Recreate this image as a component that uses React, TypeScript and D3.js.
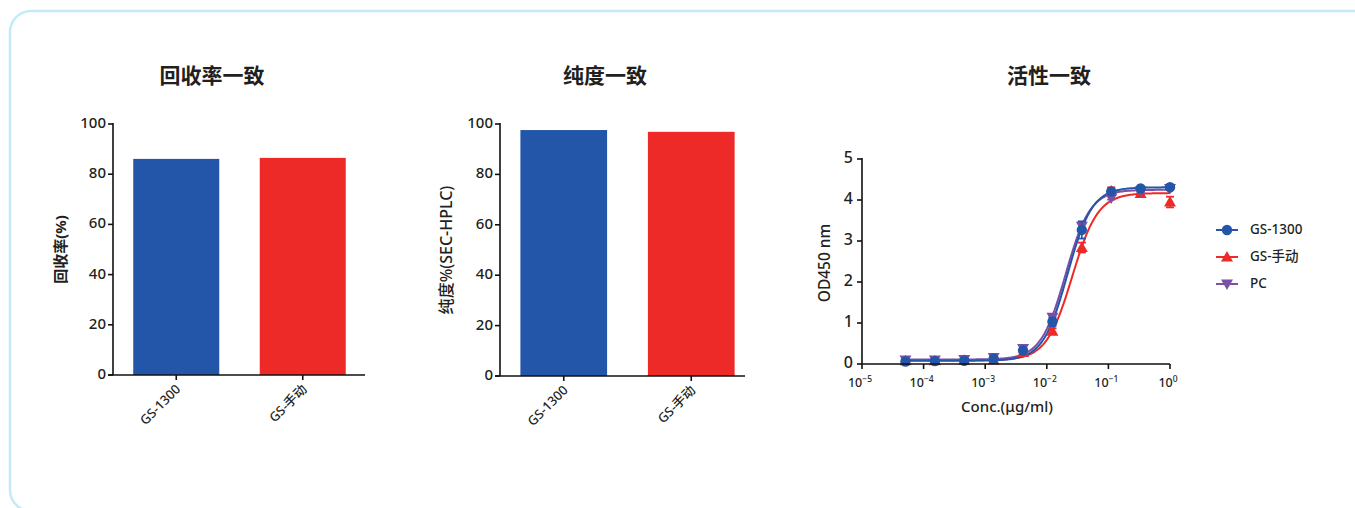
import React from 'react';
import * as d3 from 'd3';

// ---------- data ----------
const barCategories = ['GS-1300', 'GS-手动'];
const recoveryValues = [86.1, 86.5];
const purityValues = [97.6, 96.9];
const barColors = ['#2356a8', '#ee2a29'];
const barTicks = [0, 20, 40, 60, 80, 100];

const concentrations = [5.08e-5, 1.524e-4, 4.57e-4, 1.372e-3, 4.115e-3, 1.235e-2, 3.704e-2, 0.1111, 0.3333, 1];
const gs1300Values = [0.06, 0.07, 0.08, 0.13, 0.33, 1.03, 3.27, 4.21, 4.28, 4.31];
const gs1300Errors = [0.01, 0.01, 0.01, 0.02, 0.03, 0.1, 0.21, 0.04, 0.03, 0.02];
const gsManualValues = [0.08, 0.08, 0.09, 0.1, 0.28, 0.8, 2.84, 4.22, 4.16, 3.95];
const gsManualErrors = [0.01, 0.01, 0.01, 0.02, 0.03, 0.07, 0.12, 0.09, 0.05, 0.13];
const pcValues = [0.1, 0.1, 0.11, 0.16, 0.38, 1.14, 3.36, 4.05, 4.22, 4.28];
const pcErrors = [0.01, 0.01, 0.01, 0.02, 0.03, 0.06, 0.1, 0.04, 0.03, 0.02];
// 4PL fit parameters: [bottom, top, log10 EC50, hill]
const gs1300Fit = [0.08, 4.31, -1.663, 2.18];
const gsManualFit = [0.09, 4.17, -1.588, 2.08];
const pcFit = [0.11, 4.25, -1.696, 2.17];
const odTicks = [0, 1, 2, 3, 4, 5];
const concTickExps = [-5, -4, -3, -2, -1, 0];

const FONT = "'Noto Sans', 'Noto Sans CJK SC', sans-serif";
const CJK = "'Noto Sans CJK SC', sans-serif";
const TXT = '#231f20';

function BarChart({ values, title, ylabel, ylabelSize, left, right, bandLeft, bandRight, y0, y100, titleX, ylabelX, ylabelBold }) {
  const x = d3.scaleBand().domain(barCategories).range([bandLeft, bandRight]).paddingInner(0.32).paddingOuter(0.16);
  const y = d3.scaleLinear().domain([0, 100]).range([y0, y100]);
  return (
    <g>
      <text x={titleX} y={83} textAnchor="middle" fontSize={21} fontWeight={700} fill={TXT} fontFamily={CJK}>{title}</text>
      <text transform={`translate(${ylabelX},${(y0 + y100) / 2}) rotate(-90)`} textAnchor="middle"
        fontSize={ylabelSize} fontWeight={ylabelBold ? 700 : 500} fill={TXT} dominantBaseline="middle">{ylabel}</text>
      {values.map((v, i) => (
        <rect key={i} x={x(barCategories[i])} y={y(v)} width={x.bandwidth()} height={y(0) - y(v)} fill={barColors[i]} />
      ))}
      <line x1={left} x2={left} y1={y(100) - 1} y2={y(0)} stroke="#111" strokeWidth={1.6} />
      <line x1={left - 5} x2={right} y1={y(0)} y2={y(0)} stroke="#111" strokeWidth={1.6} />
      {barTicks.map((t) => (
        <g key={t}>
          <line x1={left - 5} x2={left} y1={y(t)} y2={y(t)} stroke="#111" strokeWidth={1.6} />
          <text x={left - 7} y={y(t)} textAnchor="end" dominantBaseline="middle" fontSize={15} fontWeight={500} fill={TXT}>{t}</text>
        </g>
      ))}
      {barCategories.map((c) => {
        const cx = x(c) + x.bandwidth() / 2;
        return (
          <g key={c}>
            <line x1={cx} x2={cx} y1={y(0)} y2={y(0) + 5} stroke="#111" strokeWidth={1.6} />
            <text transform={`translate(${cx + 5},${y(0) + 15}) rotate(-45)`} textAnchor="end" fontSize={13} fontWeight={500} fill={TXT}>{c}</text>
          </g>
        );
      })}
    </g>
  );
}

function Marker({ type, cx, cy, color }) {
  if (type === 'circle') return <circle cx={cx} cy={cy} r={5.2} fill={color} />;
  const s = 6;
  if (type === 'up') return <path d={`M${cx},${cy - s}L${cx + s},${cy + s * 0.75}L${cx - s},${cy + s * 0.75}Z`} fill={color} />;
  return <path d={`M${cx},${cy + s}L${cx + s},${cy - s * 0.75}L${cx - s},${cy - s * 0.75}Z`} fill={color} />;
}

function CurveChart() {
  const x = d3.scaleLog().domain([1e-5, 1]).range([862, 1170]);
  const y = d3.scaleLinear().domain([0, 5]).range([364, 159]);
  const series = [
    { name: 'GS-手动', values: gsManualValues, errors: gsManualErrors, fit: gsManualFit, color: '#ee2a29', marker: 'up' },
    { name: 'PC', values: pcValues, errors: pcErrors, fit: pcFit, color: '#7b4fa6', marker: 'down' },
    { name: 'GS-1300', values: gs1300Values, errors: gs1300Errors, fit: gs1300Fit, color: '#2356a8', marker: 'circle' },
  ];
  const legendOrder = ['GS-1300', 'GS-手动', 'PC'];
  const lo = Math.log10(concentrations[0]);
  const hi = Math.log10(concentrations[concentrations.length - 1]);
  const grid = d3.range(0, 201).map((i) => Math.pow(10, lo + ((hi - lo) * i) / 200));
  const fitFn = (p) => (c) => p[0] + (p[1] - p[0]) / (1 + Math.pow(Math.pow(10, p[2]) / c, p[3]));
  const line = d3.line().x((d) => d[0]).y((d) => d[1]).curve(d3.curveLinear);
  return (
    <g>
      <text x={1049} y={83} textAnchor="middle" fontSize={21} fontWeight={700} fill={TXT} fontFamily={CJK}>活性一致</text>
      <text transform={`translate(826,263) rotate(-90)`} textAnchor="middle" dominantBaseline="middle" fontSize={15.5} fontWeight={500} fill={TXT}>OD450 nm</text>
      <text x={1007} y={412} textAnchor="middle" fontSize={15} fontWeight={500} fill={TXT}>Conc.(μg/ml)</text>
      {series.map((s) => (
        <path key={s.name} d={line(grid.map((c) => [x(c), y(fitFn(s.fit)(c))]))} fill="none" stroke={s.color} strokeWidth={2} />
      ))}
      {series.map((s) => (
        <g key={s.name}>
          {concentrations.map((c, i) => {
            const cx = x(c);
            const top = y(s.values[i] + s.errors[i]);
            const bot = y(s.values[i] - s.errors[i]);
            return (
              <g key={i}>
                <line x1={cx} x2={cx} y1={top} y2={bot} stroke={s.color} strokeWidth={1.6} />
                <line x1={cx - 4} x2={cx + 4} y1={top} y2={top} stroke={s.color} strokeWidth={1.8} />
                <line x1={cx - 4} x2={cx + 4} y1={bot} y2={bot} stroke={s.color} strokeWidth={1.8} />
                <Marker type={s.marker} cx={cx} cy={y(s.values[i])} color={s.color} />
              </g>
            );
          })}
        </g>
      ))}
      <line x1={862} x2={862} y1={158} y2={364} stroke="#111" strokeWidth={1.6} />
      <line x1={862} x2={1170} y1={364} y2={364} stroke="#111" strokeWidth={1.6} />
      {odTicks.map((t) => (
        <g key={t}>
          <line x1={857} x2={862} y1={y(t)} y2={y(t)} stroke="#111" strokeWidth={1.6} />
          <text x={853} y={y(t)} textAnchor="end" dominantBaseline="middle" fontSize={16} fontWeight={500} fill={TXT}>{t}</text>
        </g>
      ))}
      {concTickExps.map((e) => {
        const cx = x(Math.pow(10, e));
        return (
          <g key={e}>
            <line x1={cx} x2={cx} y1={364} y2={369} stroke="#111" strokeWidth={1.6} />
            <text x={cx - 2} y={387} textAnchor="middle" fontSize={12.5} fontWeight={500} fill={TXT}>
              10<tspan dy={-5} fontSize={8.5}>{e === 0 ? '0' : `−${-e}`}</tspan>
            </text>
          </g>
        );
      })}
      {legendOrder.map((n, i) => {
        const s = series.find((d) => d.name === n);
        const ly = 230 + i * 27;
        return (
          <g key={n}>
            <line x1={1216} x2={1238} y1={ly} y2={ly} stroke={s.color} strokeWidth={2} />
            <Marker type={s.marker} cx={1227} cy={ly} color={s.color} />
            <text x={1250} y={ly} dominantBaseline="middle" fontSize={13.5} fontWeight={500} fill={TXT}>{n}</text>
          </g>
        );
      })}
    </g>
  );
}

export default function App() {
  return (
    <svg width={1355} height={508} style={{ position: 'absolute', left: 0, top: 0, background: '#fff' }} fontFamily={FONT}>
      <rect x={10} y={11} width={1400} height={500} rx={21} fill="#fff" stroke="#c3eaf7" strokeWidth={2.5} />
      <BarChart values={recoveryValues} title="回收率一致" ylabel="回收率(%)" ylabelSize={15} left={113} right={365} bandLeft={113} bandRight={366}
        y0={375} y100={124} titleX={212} ylabelX={62} ylabelBold={true} />
      <BarChart values={purityValues} title="纯度一致" ylabel="纯度%(SEC-HPLC)" ylabelSize={16} left={500} right={745} bandLeft={500} bandRight={755}
        y0={376} y100={124} titleX={605} ylabelX={448} ylabelBold={false} />
      <CurveChart />
    </svg>
  );
}
